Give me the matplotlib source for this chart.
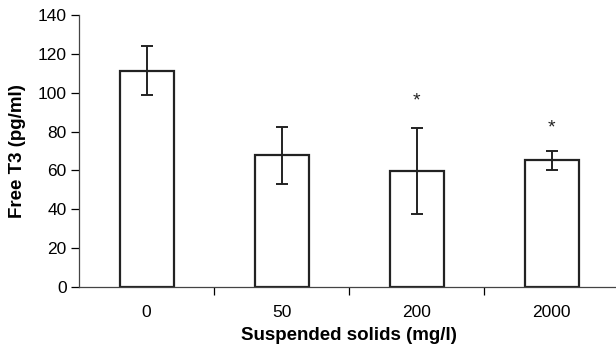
import matplotlib
matplotlib.use('Agg')
import matplotlib.pyplot as plt
import numpy as np

categories = ['0', '50', '200', '2000']
free_t3 = [111.3, 67.8, 59.7, 65.2]
err_up = [12.7, 14.5, 22.0, 4.6]
err_down = [12.7, 14.6, 22.1, 5.0]
stars = [None, None, 96, 82]

plt.rcParams['font.family'] = ['Liberation Sans', 'DejaVu Sans']

fig = plt.figure(figsize=(6.16, 3.48), dpi=100)
ax = fig.add_axes([79 / 616, 61 / 348, 540 / 616, 272 / 348])

x = np.arange(len(categories))
ax.bar(x, free_t3, width=0.4, color='white', edgecolor='#222222', linewidth=1.6)
ax.errorbar(x, free_t3, yerr=[err_down, err_up], fmt='none', ecolor='#222222',
            elinewidth=1.4, capsize=4, capthick=1.4)
for xi, s in zip(x, stars):
    if s is not None:
        ax.text(xi, s, '*', ha='center', va='center', fontsize=14, color='#222222')

ax.set_xlim(-0.5, len(categories) - 0.5)
ax.set_ylim(0, 140)
ax.set_yticks(np.arange(0, 141, 20))
ax.set_xticks(x)
ax.set_xticklabels(categories)
ax.set_xticks(np.arange(0.5, len(categories) - 0.5, 1), minor=True)
ax.tick_params(axis='x', which='major', length=0, pad=13, labelsize=12.5)
ax.tick_params(axis='x', which='minor', length=6, direction='out', width=0.9)
ax.tick_params(axis='y', length=6, width=0.9, labelsize=12.5, pad=3)

for side in ['top', 'right']:
    ax.spines[side].set_visible(False)
ax.spines['left'].set_color('#444444')
ax.spines['bottom'].set_color('#444444')
ax.spines['left'].set_linewidth(0.9)
ax.spines['bottom'].set_linewidth(0.9)

ax.set_xlabel('Suspended solids (mg/l)', fontsize=13.5, fontweight='bold', labelpad=5)
ax.set_ylabel('Free T3 (pg/ml)', fontsize=13.5, fontweight='bold', labelpad=8)

fig.savefig('out.png', dpi=100)
